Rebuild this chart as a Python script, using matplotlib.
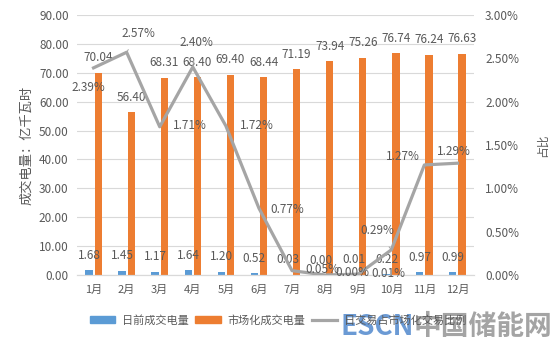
import numpy as np
import matplotlib
matplotlib.use("Agg")
import matplotlib.pyplot as plt
from matplotlib.patches import Patch
from matplotlib.lines import Line2D

plt.rcParams['font.family'] = ['Noto Sans CJK SC', 'DejaVu Sans']

# monthly data
months = ['1月', '2月', '3月', '4月', '5月', '6月', '7月', '8月', '9月', '10月', '11月', '12月']
dayahead = [1.68, 1.45, 1.17, 1.64, 1.20, 0.52, 0.03, 0.00, 0.01, 0.22, 0.97, 0.99]
market = [70.04, 56.40, 68.31, 68.40, 69.40, 68.44, 71.19, 73.94, 75.26, 76.74, 76.24, 76.63]
ratio = [2.39, 2.57, 1.71, 2.40, 1.72, 0.77, 0.05, 0.00, 0.01, 0.29, 1.27, 1.29]

# where each percent label sits relative to its point (pixels), and whether it gets a leader line
ratio_offsets = [(-5, -20), (12, 19), (30, 1), (4, 25), (31, 0), (28, -1),
                 (30, 1), (27, 2), (30, 1), (-14, 19), (-21, 8), (-4, 12)]
leaders = [False, True, False, True, False, False, False, False, False, True, False, False]

BLUE = '#5B9BD5'
ORANGE = '#ED7D31'
GRAY = '#A5A5A5'
TXT = '#595959'

fig = plt.figure(figsize=(5.56, 3.42), dpi=100)
ax = fig.add_axes([77 / 556, 1 - 275 / 342, 397 / 556, 260 / 342])
ax2 = ax.twinx()

x = np.arange(len(months))
w = 0.22
b1 = ax.bar(x - 0.14, dayahead, w, color=BLUE, zorder=2)
b2 = ax.bar(x + 0.14, market, w, color=ORANGE, zorder=2)

for bars, vals in ((b1, dayahead), (b2, market)):
    for r, v in zip(bars, vals):
        ax.annotate(f'{v:.2f}', (r.get_x() + r.get_width() / 2, v),
                    xytext=(0, 15), textcoords='offset pixels',
                    ha='center', va='center', fontsize=8.5, color=TXT)

ax.set_xlim(-0.5, len(months) - 0.5)
ax.set_ylim(0, 90)
ax.set_yticks(np.arange(0, 91, 10))
ax.set_yticklabels([f'{v:.2f}' for v in np.arange(0, 91, 10)])
ax.set_xticks(x)
ax.set_xticklabels(months)
ax.yaxis.grid(True, color='#D9D9D9', lw=0.8, zorder=0)
ax.set_axisbelow(True)

ax2.plot(x, ratio, color=GRAY, lw=2.3, zorder=3)
ax2.set_ylim(0, 3)
ax2.set_yticks(np.arange(0, 3.01, 0.5))
ax2.set_yticklabels([f'{v:.2f}%' for v in np.arange(0, 3.01, 0.5)])

for xi, v, (dx, dy), ld in zip(x, ratio, ratio_offsets, leaders):
    props = dict(arrowstyle='-', color=GRAY, lw=0.7, shrinkA=6, shrinkB=0) if ld else None
    ax2.annotate(f'{v:.2f}%', (xi, v), xytext=(dx, dy), textcoords='offset pixels',
                 ha='center', va='center', fontsize=8.5, color=TXT, arrowprops=props)

for a in (ax, ax2):
    for s in ('top', 'left', 'right'):
        a.spines[s].set_visible(False)
    a.spines['bottom'].set_color('#D9D9D9')
    a.tick_params(length=0, colors=TXT, labelsize=8.5)
ax.tick_params(axis='x', labelsize=8, pad=7)
ax.tick_params(axis='y', pad=6)
ax2.tick_params(axis='y', pad=8)

ax.set_ylabel('成交电量：亿千瓦时', fontsize=9.5, color=TXT, labelpad=4)
ax2.set_ylabel('占比', fontsize=8.5, color=TXT, labelpad=12, rotation=90)

handles = [Patch(color=BLUE), Patch(color=ORANGE), Line2D([], [], color=GRAY, lw=2.3)]
labels = ['日前成交电量', '市场化成交电量', '日交易占市场化交易比例']
fig.legend(handles, labels, loc='center', bbox_to_anchor=(0.5, 1 - 320 / 342), ncol=3,
           frameon=False, fontsize=8, handlelength=2.3, handleheight=0.6,
           handletextpad=0.6, columnspacing=0.6, labelcolor=TXT)

# site watermark
fig.text(414 / 556, 0.02, 'ESCN', ha='right', va='baseline', fontsize=20,
         fontweight='bold', color='#5B8FD0', alpha=0.9)
fig.text(414 / 556, 0.02, '中国储能网', ha='left', va='baseline', fontsize=20,
         fontweight='bold', color='#9A9A9A', alpha=0.9)

fig.savefig('out.png', dpi=100)
